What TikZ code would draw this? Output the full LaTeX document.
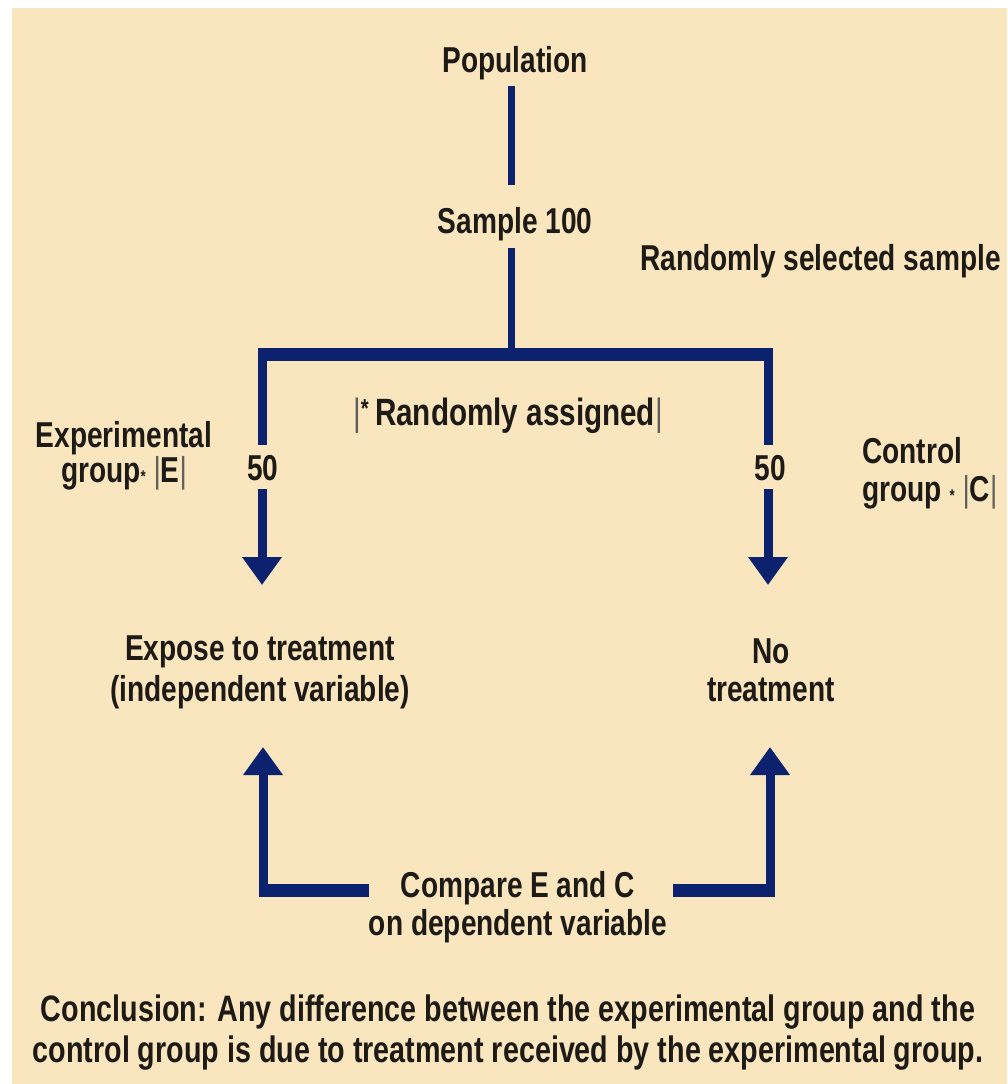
\documentclass[tikz,border=0pt]{standalone}
\usepackage{fontspec}
\setmainfont{Liberation Sans}[FakeStretch=0.78]
\usetikzlibrary{arrows.meta}
\definecolor{bgc}{HTML}{F9E6BE}
\definecolor{navy}{HTML}{0C226E}
\definecolor{ink}{HTML}{1E1A16}
\newcommand{\mybar}{{\mdseries\color{ink!70}|}}
\newcommand{\smast}{{\fontsize{17}{17}\selectfont *}}
\begin{document}
\begin{tikzpicture}[x=1pt,y=-1pt,
  lbl/.style={text=ink, inner sep=0pt, anchor=base, align=center, font=\bfseries\fontsize{36}{40}\selectfont},
  stem/.style={draw=navy, line width=7pt},
  drop/.style={draw=navy, line width=9pt},
  bar/.style={draw=navy, line width=13pt},
  tip/.style={-{Triangle[width=38pt,length=28pt]}}]
\useasboundingbox (0,0) rectangle (1007,1084);
\fill[white] (0,0) rectangle (1007,1084);
\fill[bgc] (12,8) rectangle (1007,1084);

% labels (multi-line nodes are placed at the baseline of their last line)
\node[lbl] (pop) at (515,72) {Population};
\node[lbl] (samp) at (515,233) {Sample 100};
\node[lbl, anchor=base west, font=\bfseries\fontsize{36}{40}\selectfont] (rss) at (640,270) {Randomly selected sample};
\node[lbl, font=\bfseries\fontsize{38}{40}\selectfont] (ra) at (508,425)
  {\mybar\raisebox{8pt}{\fontsize{26}{26}\selectfont *}\,Randomly assigned\mybar};
\node[lbl, font=\bfseries\fontsize{36}{35}\selectfont] (exp) at (124,482)
  {Experimental\\group\smast\ \mybar E\mybar};
\node[lbl, align=left, anchor=base west, font=\bfseries\fontsize{36}{38}\selectfont] (ctl) at (862,501)
  {Control\\group \smast\ \mybar C\mybar};
\node[lbl] (L50) at (263,480) {50};
\node[lbl] (R50) at (770,480) {50};
\node[lbl, font=\bfseries\fontsize{36}{41}\selectfont] (expo) at (260,701)
  {Expose to treatment\\(independent variable)};
\node[lbl, font=\bfseries\fontsize{36}{38}\selectfont] (none) at (771,701)
  {No\\treatment};
\node[lbl, font=\bfseries\fontsize{36}{38}\selectfont] (cmp) at (518,935)
  {Compare E and C\\on dependent variable};
\node[lbl, font=\bfseries\fontsize{36.8}{41}\selectfont] (concl) at (508,1062)
  {Conclusion: Any difference between the experimental group and the\\
   control group is due to treatment received by the experimental group.};

% coordinates
\coordinate (split) at (511,354);
\coordinate (Lc) at (262,354);
\coordinate (Rc) at (768,354);
\coordinate (Ltip) at (262,585);
\coordinate (Rtip) at (768,585);
\coordinate (Lb) at (263,890);
\coordinate (Rb) at (770,890);
\coordinate (Lup) at (263,747);
\coordinate (Rup) at (770,747);

% connectors
\draw[stem, shorten <=6pt, shorten >=22pt] (pop.south -| split) -- (samp.north -| split);
\draw[stem, shorten <=7pt] (samp.south -| split) -- (split);
\draw[bar] ([xshift=-4.5pt]Lc) -- ([xshift=4.5pt]Rc);
\draw[drop, shorten >=10pt] ([yshift=6pt]Lc) -- (L50.north -| Lc);
\draw[drop, tip, shorten <=8pt] (L50.south -| Lc) -- (Ltip);
\draw[drop, shorten >=10pt] ([yshift=6pt]Rc) -- (R50.north -| Rc);
\draw[drop, tip, shorten <=8pt] (R50.south -| Rc) -- (Rtip);

\draw[bar] (cmp.west |- Lb) -- ([xshift=-4.5pt]Lb);
\draw[drop, tip] ([yshift=-6.5pt]Lb) -- (Lup);
\draw[bar, shorten <=6pt] (cmp.east |- Rb) -- ([xshift=4.5pt]Rb);
\draw[drop, tip] ([yshift=-6.5pt]Rb) -- (Rup);
\end{tikzpicture}
\end{document}
